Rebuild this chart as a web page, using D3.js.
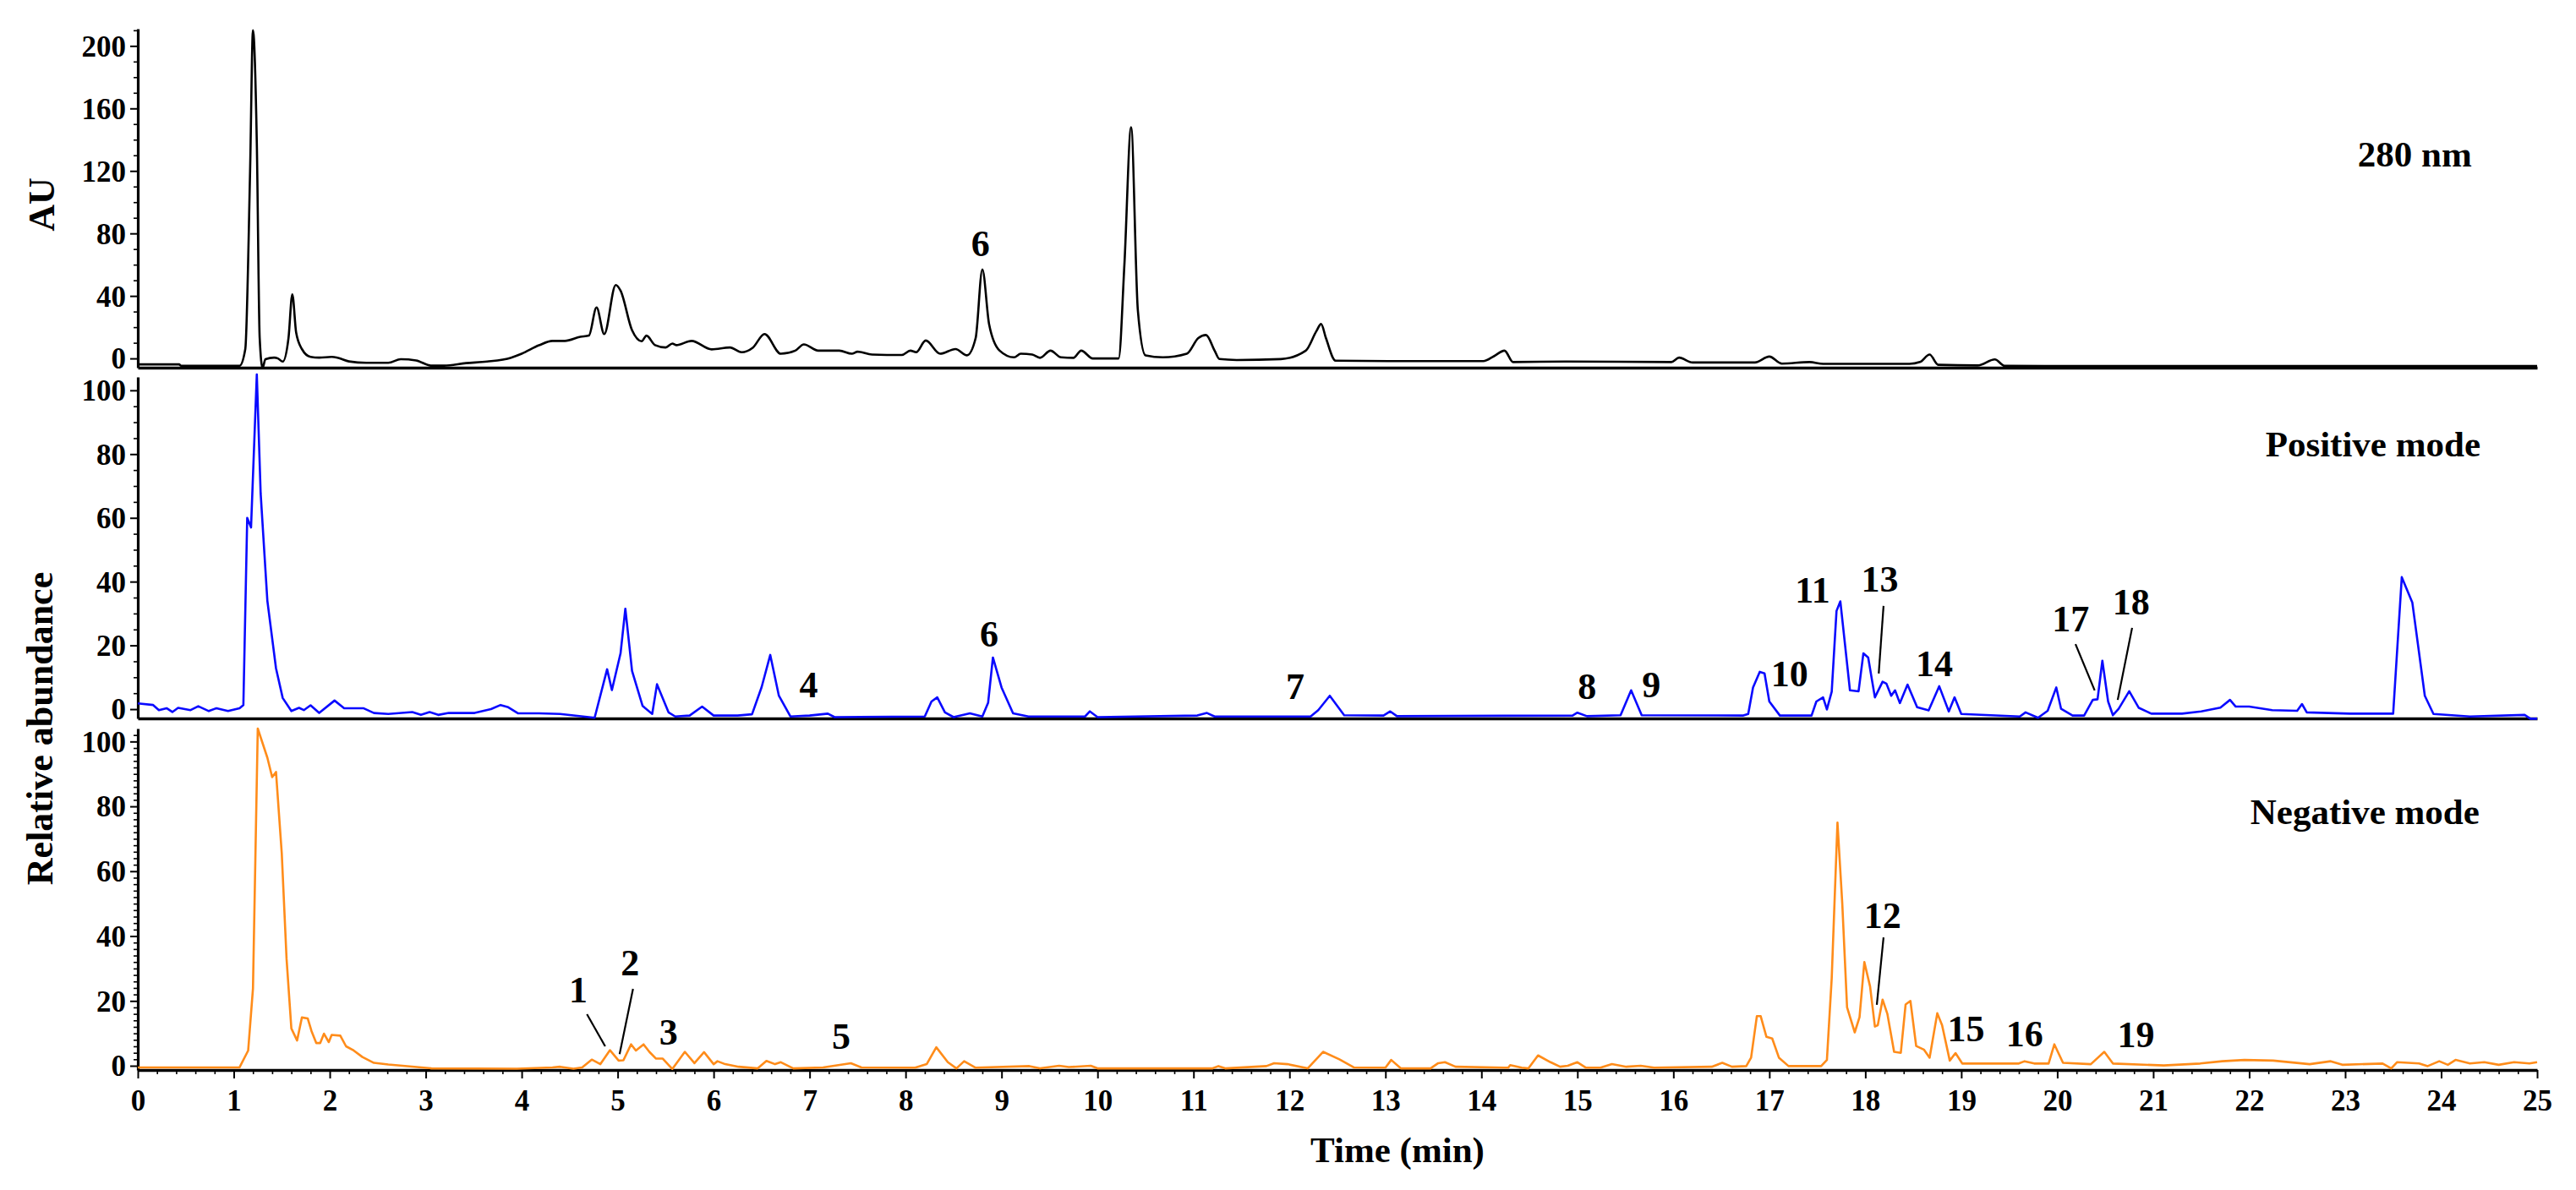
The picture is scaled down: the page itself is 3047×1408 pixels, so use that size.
<!DOCTYPE html>
<html>
<head>
<meta charset="utf-8">
<script src="https://cdn.jsdelivr.net/npm/d3@7"></script>
<style>
	body { margin: 0; background: #fff; }
	svg text { font-family: "Liberation Serif", "Times New Roman", serif; font-weight: bold; fill: #000; }
</style>
</head>
<body>
<svg id="chart" width="3047" height="1408"></svg>
<script>
// ---- data: [time (min), signal] ----
let uvTrace = [
	[0, -3.8], [0.43, -3.8], [0.45, -4.7], [1.06, -4.7], [1.12, 6], [1.17, 120], [1.2, 210], [1.24, 138],
	[1.27, 13], [1.3, -6], [1.33, -0.5], [1.42, 0.5], [1.46, 0], [1.51, -2], [1.57, 13], [1.61, 41],
	[1.65, 16.5], [1.71, 6], [1.8, 1], [1.89, 0.5], [2.02, 1], [2.09, 0.3], [2.2, -1.9], [2.38, -2.8],
	[2.61, -2.8], [2.74, -0.5], [2.9, -1.3], [3.06, -4.6], [3.19, -4.6], [3.42, -3], [3.64, -2], [3.89, 0.5],
	[4.0, 3], [4.18, 8.4], [4.32, 11.2], [4.45, 11.2], [4.61, 13.8], [4.7, 14.6], [4.78, 32.6], [4.86, 15.6],
	[4.98, 47], [5.03, 43.4], [5.15, 18], [5.25, 11], [5.3, 14.6], [5.39, 8.5], [5.5, 7], [5.57, 9.5],
	[5.61, 8.5], [5.77, 11.2], [5.98, 5.8], [6.17, 7], [6.29, 4], [6.41, 7], [6.53, 15.6], [6.7, 3],
	[6.85, 5], [6.94, 9], [7.09, 5], [7.31, 5], [7.44, 3], [7.5, 4.3], [7.65, 2.5], [7.96, 2.2],
	[8.05, 5], [8.11, 4], [8.21, 11.5], [8.36, 3], [8.52, 6], [8.64, 2], [8.73, 13], [8.8, 57],
	[8.87, 22], [8.98, 5], [9.13, 0.7], [9.2, 3], [9.32, 2.5], [9.4, 0.4], [9.51, 5], [9.62, 0.7],
	[9.75, 0.4], [9.83, 5], [9.95, 0], [10.22, 0], [10.28, 60], [10.35, 148], [10.42, 31], [10.5, 2],
	[10.68, 0.7], [10.93, 3], [11.05, 13], [11.13, 15], [11.22, 5], [11.27, -0.4], [11.45, -1], [11.91, -0.4],
	[12.17, 5], [12.28, 17.4], [12.33, 22], [12.38, 13], [12.48, -1.4], [13.03, -1.7], [14.02, -1.7], [14.13, 1.4],
	[14.24, 5], [14.33, -2.3], [14.88, -2], [15.98, -2.3], [16.06, 0.5], [16.2, -2.6], [16.85, -2.6], [17.0, 1.2],
	[17.13, -3.3], [17.42, -2.3], [17.56, -3.5], [18.46, -3.5], [18.57, -2.3], [18.67, 2.5], [18.76, -4.1], [19.17, -4.5],
	[19.35, -0.6], [19.45, -4.7], [19.87, -4.9], [25, -4.9]
];

let posTrace = [
	[0, 1.8], [0.16, 1.3], [0.22, -0.3], [0.3, 0.3], [0.36, -0.9], [0.42, 0.4], [0.55, -0.3], [0.63, 0.9],
	[0.74, -0.6], [0.82, 0.3], [0.94, -0.6], [1.06, 0.3], [1.1, 1.3], [1.14, 60], [1.18, 57], [1.24, 105],
	[1.28, 67.7], [1.35, 34], [1.44, 12.8], [1.51, 3.5], [1.6, -0.6], [1.68, 0.4], [1.73, -0.3], [1.8, 1.2],
	[1.89, -1.2], [2.05, 2.7], [2.15, 0.3], [2.35, 0.3], [2.46, -1.2], [2.61, -1.5], [2.86, -0.9], [2.95, -1.8],
	[3.04, -0.9], [3.13, -1.8], [3.24, -1.2], [3.51, -1.2], [3.68, 0], [3.78, 1.3], [3.86, 0.6], [3.96, -1.3],
	[4.18, -1.3], [4.4, -1.5], [4.76, -2.7], [4.89, 12.5], [4.94, 6], [5.03, 17.5], [5.08, 31.5], [5.15, 12],
	[5.26, 1], [5.36, -1.5], [5.41, 7.8], [5.53, -1], [5.6, -2.3], [5.75, -2], [5.88, 0.8], [6.0, -2],
	[6.25, -2], [6.4, -1.6], [6.5, 6.9], [6.59, 17], [6.68, 4.2], [6.8, -2.3], [7.0, -2], [7.19, -1.4],
	[7.26, -2.5], [8.2, -2.3], [8.27, 2.4], [8.33, 3.7], [8.41, -1], [8.5, -2.5], [8.67, -1.3], [8.8, -2.3],
	[8.86, 2], [8.91, 16.2], [9.0, 6.8], [9.12, -1.3], [9.28, -2.3], [9.87, -2.3], [9.92, -0.7], [10.0, -2.5],
	[11.04, -2], [11.14, -1.2], [11.22, -2.3], [12.22, -2.3], [12.3, -0.3], [12.42, 4.2], [12.57, -1.9], [12.98, -2],
	[13.05, -0.7], [13.12, -2.2], [14.95, -2], [15.0, -1.1], [15.1, -2.2], [15.45, -1.9], [15.56, 5.9], [15.67, -1.9],
	[16.73, -2], [16.78, -1.5], [16.83, 6.8], [16.9, 11.7], [16.95, 11.2], [17.0, 2.4], [17.11, -2], [17.44, -2],
	[17.49, 2.4], [17.56, 3.7], [17.6, -0.1], [17.65, 5.5], [17.7, 30.8], [17.74, 33.8], [17.84, 5.9], [17.93, 5.6],
	[17.98, 17.5], [18.03, 16.2], [18.1, 3.7], [18.18, 8.6], [18.22, 8], [18.27, 4.2], [18.31, 5.9], [18.36, 1.9],
	[18.44, 7.7], [18.54, 0.6], [18.66, -0.4], [18.77, 7.2], [18.87, -0.7], [18.93, 3.7], [19.0, -1.5], [19.61, -2.3],
	[19.67, -1], [19.8, -2.7], [19.9, -0.5], [19.99, 6.8], [20.04, 0.1], [20.16, -2], [20.28, -2], [20.37, 2.9],
	[20.42, 3.1], [20.47, 15.2], [20.53, 2.4], [20.58, -1.9], [20.64, 0.1], [20.75, 5.6], [20.85, 0.4], [20.98, -1.4],
	[21.3, -1.4], [21.5, -0.7], [21.7, 0.5], [21.8, 2.9], [21.86, 0.8], [22.0, 0.8], [22.24, -0.3], [22.5, -0.5],
	[22.55, 1.6], [22.6, -1], [23.05, -1.4], [23.5, -1.4], [23.59, 41.4], [23.7, 33.4], [23.83, 4.2], [23.92, -1.5],
	[24.3, -2.3], [24.87, -1.8], [24.93, -3], [25, -3]
];

let negTrace = [
	[0, -0.5], [1.06, -0.5], [1.15, 4.7], [1.2, 23.8], [1.25, 104], [1.35, 95], [1.4, 89], [1.44, 90.6],
	[1.5, 65.5], [1.55, 33], [1.6, 11.5], [1.66, 7.8], [1.71, 14.9], [1.77, 14.6], [1.81, 10.7], [1.86, 7],
	[1.9, 7], [1.94, 9.9], [1.99, 7.3], [2.02, 9.5], [2.11, 9.3], [2.17, 6], [2.25, 4.7], [2.34, 2.7],
	[2.46, 0.9], [2.61, 0.4], [3.06, -0.8], [3.95, -0.9], [4.32, -0.5], [4.4, -0.3], [4.54, -0.9], [4.63, -0.5],
	[4.73, 1.9], [4.82, 0.5], [4.92, 4.8], [5.01, 1.6], [5.06, 1.7], [5.14, 6.6], [5.19, 4.7], [5.27, 6.6],
	[5.33, 4.3], [5.4, 2.2], [5.47, 2.2], [5.57, -1], [5.7, 4.3], [5.8, 0.8], [5.9, 4.2], [6.0, 0.5],
	[6.04, 1.4], [6.12, 0.5], [6.26, -0.3], [6.46, -0.8], [6.55, 1.5], [6.64, 0.5], [6.7, 1.1], [6.83, -0.8],
	[7.14, -0.5], [7.43, 0.8], [7.54, -0.5], [8.1, -0.6], [8.22, 0.5], [8.32, 5.7], [8.44, 1.1], [8.53, -0.8],
	[8.61, 1.4], [8.73, -0.6], [9.29, -0.1], [9.4, -0.8], [9.6, 0], [9.7, -0.4], [9.93, 0], [10.0, -0.8],
	[11.2, -0.8], [11.26, -0.1], [11.33, -0.8], [11.76, -0.1], [11.84, 0.8], [11.98, 0.5], [12.19, -0.8], [12.35, 4.3],
	[12.52, 2], [12.67, -0.5], [13.0, -0.6], [13.06, 1.8], [13.16, -0.8], [13.47, -0.8], [13.55, 0.8], [13.62, 1.1],
	[13.73, -0.3], [14.28, -0.6], [14.3, 0.2], [14.42, -0.6], [14.49, -0.8], [14.59, 3.2], [14.72, 1.1], [14.82, -0.3],
	[14.9, 0], [15.0, 1.1], [15.09, -0.6], [15.24, -0.6], [15.36, 0.5], [15.51, -0.3], [15.66, 0], [15.8, -0.6],
	[16.4, -0.3], [16.51, 0.9], [16.61, -0.3], [16.76, -0.1], [16.81, 2.5], [16.87, 15.3], [16.91, 15.3], [16.97, 8.9],
	[17.03, 8.4], [17.1, 2.5], [17.2, -0.1], [17.54, -0.1], [17.6, 1.8], [17.65, 27], [17.71, 75], [17.76, 50],
	[17.81, 18], [17.89, 10.3], [17.94, 15], [17.99, 32], [18.05, 24.4], [18.1, 12.1], [18.13, 12.5], [18.18, 20.4],
	[18.23, 16], [18.3, 4.3], [18.37, 4], [18.42, 18.9], [18.47, 20], [18.53, 6.1], [18.61, 5], [18.67, 2.5],
	[18.75, 16.2], [18.8, 12.5], [18.88, 1.6], [18.94, 3.9], [19.01, 0.7], [19.6, 0.7], [19.66, 1.4], [19.76, 0.7],
	[19.91, 0.7], [19.97, 6.6], [20.06, 0.9], [20.35, 0.5], [20.49, 4.3], [20.58, 0.7], [21.11, 0.1], [21.49, 0.7],
	[21.72, 1.4], [21.95, 1.8], [22.25, 1.6], [22.63, 0.5], [22.85, 1.4], [22.97, 0.3], [23.39, 0.7], [23.48, -0.8],
	[23.54, 1.1], [23.77, 0.7], [23.86, -0.1], [23.98, 1.4], [24.07, 0.3], [24.15, 1.8], [24.3, 0.7], [24.45, 1.1],
	[24.6, 0.3], [24.76, 1.1], [24.92, 0.7], [25, 1.1]
];

// ---- ticks ----
let timeTicks = [0, 1, 2, 3, 4, 5, 6, 7, 8, 9, 10, 11, 12, 13, 14, 15, 16, 17, 18, 19, 20, 21, 22, 23, 24, 25];
let uvTicks = [0, 40, 80, 120, 160, 200];
let msTicks = [0, 20, 40, 60, 80, 100];

// ---- peak numbers: label, time, signal of the text baseline ----
let uvPeaks = [['6', 8.78, 65.5]];
let posPeaks = [
	['4', 6.99, 3.7], ['6', 8.87, 19.6], ['7', 12.06, 3.2], ['8', 15.10, 3.2], ['9', 15.77, 3.7],
	['10', 17.21, 7.2], ['11', 17.45, 33.4], ['13', 18.15, 36.9], ['14', 18.72, 10.4],
	['17', 20.14, 24.4], ['18', 20.77, 29.7]
];
let negPeaks = [
	['1', 4.59, 19.5], ['2', 5.13, 27.9], ['3', 5.53, 6.5], ['5', 7.33, 5.2], ['12', 18.18, 42.5],
	['15', 19.05, 7.6], ['16', 19.66, 6], ['19', 20.82, 5.7]
];

// ---- leader lines: [t1, v1, t2, v2] ----
let posLeaders = [[18.19, 32.4, 18.14, 11.2], [20.19, 20.4, 20.39, 5.9], [20.78, 25.5, 20.63, 2.9]];
let negLeaders = [[4.68, 15.9, 4.87, 6], [5.16, 23.7, 5.02, 3.6], [18.19, 39.6, 18.12, 18.8]];

let svg = d3.select('#chart');

let xScale = d3.scaleLinear()
		.domain([0, 25])
		.range([163, 3001]);

let panels = [
	{
		trace: uvTrace, color: '#000000', ticks: uvTicks, minor: 10, curve: d3.curveMonotoneX,
		domain: [-5.9, 211], range: [435, 34],
		title: '280 nm', titleAt: [24.32, 122.8],
		peaks: uvPeaks, leaders: []
	},
	{
		trace: posTrace, color: '#0a0aff', ticks: msTicks, minor: 5, curve: d3.curveLinear,
		domain: [-2.9, 104.2], range: [850, 446],
		title: 'Positive mode', titleAt: [24.41, 79.3],
		peaks: posPeaks, leaders: posLeaders
	},
	{
		trace: negTrace, color: '#ff8c1a', ticks: msTicks, minor: 2, curve: d3.curveLinear,
		domain: [-1.3, 104], range: [1266, 862],
		title: 'Negative mode', titleAt: [24.4, 74.5],
		peaks: negPeaks, leaders: negLeaders
	}
];

/**
 * Draw one stacked chromatogram panel.
 */
function drawPanel(p, i) {
	let yScale = d3.scaleLinear().domain(p.domain).range(p.range);
	let g = svg.append('g').attr('class', 'panel-' + i);

	// minor y ticks
	let minorTicks = d3.range(0, p.domain[1], p.minor).filter(v => p.ticks.indexOf(v) < 0);
	g.append('g')
			.attr('transform', `translate(${xScale(0)},0)`)
			.call(d3.axisLeft(yScale).tickValues(minorTicks).tickSize(5).tickSizeOuter(0).tickFormat(''))
			.call(a => a.select('.domain').remove())
			.call(a => a.selectAll('line').attr('stroke-width', 1.6));

	// major y ticks + axis line
	g.append('g')
			.attr('transform', `translate(${xScale(0)},0)`)
			.call(d3.axisLeft(yScale).tickValues(p.ticks).tickSize(9).tickSizeOuter(0).tickPadding(5))
			.call(a => a.select('.domain').attr('stroke-width', 3.2))
			.call(a => a.selectAll('line').attr('stroke-width', 2))
			.call(a => a.selectAll('text').style('font-size', '35px').attr('dy', '0.34em'));

	// x axis line at the bottom of each panel
	let xAxis = g.append('g')
			.attr('transform', `translate(0,${p.range[0]})`);
	if (i === panels.length - 1) {
		let minorX = d3.range(0, 25.001, 0.2).filter(v => Math.abs(v - Math.round(v)) > 1e-6);
		xAxis.append('g')
				.call(d3.axisBottom(xScale).tickValues(minorX).tickSize(5).tickSizeOuter(0).tickFormat(''))
				.call(a => a.select('.domain').remove())
				.call(a => a.selectAll('line').attr('stroke-width', 1.6));
		xAxis.append('g')
				.call(d3.axisBottom(xScale).tickValues(timeTicks).tickSize(10).tickSizeOuter(0).tickPadding(13))
				.call(a => a.select('.domain').attr('stroke-width', 3.6))
				.call(a => a.selectAll('line').attr('stroke-width', 2))
				.call(a => a.selectAll('text').style('font-size', '35px'));
	} else {
		xAxis.call(d3.axisBottom(xScale).tickValues([]).tickSizeOuter(0))
				.call(a => a.select('.domain').attr('stroke-width', 3.6));
	}

	// trace
	let line = d3.line()
			.curve(p.curve)
			.x(d => xScale(d[0]))
			.y(d => yScale(d[1]));

	g.append('path')
			.datum(p.trace)
			.attr('d', line)
			.attr('fill', 'none')
			.attr('stroke', p.color)
			.attr('stroke-width', 2.6)
			.attr('stroke-linejoin', 'round');

	// leader lines
	g.selectAll('.leader')
			.data(p.leaders)
			.enter()
			.append('line')
			.attr('class', 'leader')
			.attr('x1', d => xScale(d[0]))
			.attr('y1', d => yScale(d[1]))
			.attr('x2', d => xScale(d[2]))
			.attr('y2', d => yScale(d[3]))
			.attr('stroke', '#000')
			.attr('stroke-width', 2.2);

	// peak numbers
	g.selectAll('.peak')
			.data(p.peaks)
			.enter()
			.append('text')
			.attr('class', 'peak')
			.attr('x', d => xScale(d[1]))
			.attr('y', d => yScale(d[2]))
			.attr('text-anchor', 'middle')
			.style('font-size', '44px')
			.text(d => d[0]);

	// panel title
	g.append('text')
			.attr('x', xScale(p.titleAt[0]))
			.attr('y', yScale(p.titleAt[1]))
			.attr('text-anchor', 'end')
			.style('font-size', '43px')
			.text(p.title);
}

panels.forEach(drawPanel);

// axis titles
svg.append('text')
		.attr('transform', 'translate(64,242) rotate(-90)')
		.attr('text-anchor', 'middle')
		.style('font-size', '44px')
		.text('AU');

svg.append('text')
		.attr('transform', 'translate(62,862) rotate(-90)')
		.attr('text-anchor', 'middle')
		.style('font-size', '44px')
		.text('Relative abundance');

svg.append('text')
		.attr('x', 1653)
		.attr('y', 1375)
		.attr('text-anchor', 'middle')
		.style('font-size', '43px')
		.text('Time (min)');
</script>
</body>
</html>
